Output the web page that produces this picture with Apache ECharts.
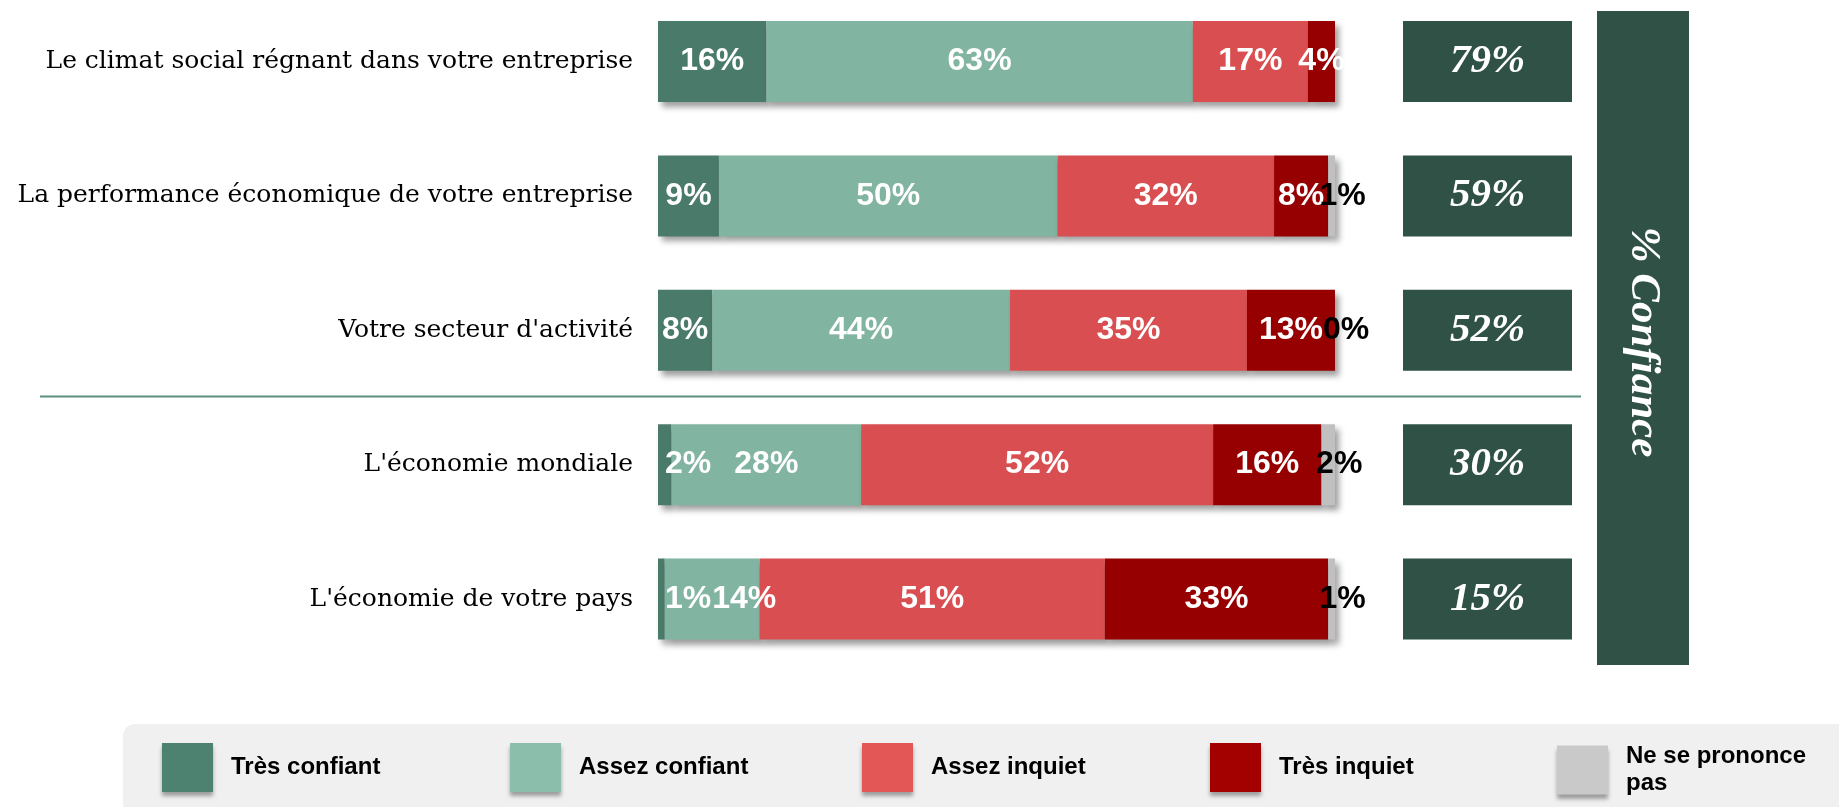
<!DOCTYPE html>
<html>
<head>
<meta charset="utf-8">
<style>
  html, body { margin: 0; padding: 0; background: #fff; }
  #chart { width: 1839px; height: 807px; }
</style>
<script src="https://cdn.jsdelivr.net/npm/echarts@6.0.0/dist/echarts.min.js"></script>
</head>
<body>
<div id="chart"></div>
<script>
// data
const categories = [
  'Le climat social régnant dans votre entreprise',
  'La performance économique de votre entreprise',
  "Votre secteur d'activité",
  "L'économie mondiale",
  "L'économie de votre pays"
];
const seriesNames = ['Très confiant', 'Assez confiant', 'Assez inquiet', 'Très inquiet', 'Ne se prononce pas'];
const tresConfiant = [16, 9, 8, 2, 1];
const assezConfiant = [63, 50, 44, 28, 14];
const assezInquiet = [17, 32, 35, 52, 51];
const tresInquiet = [4, 8, 13, 16, 33];
const nePrononcePas = [null, 1, 0, 2, 1];
const confiance = [79, 59, 52, 30, 15];

const colors = ['#4a7a69', '#82b4a2', '#d94f51', '#960000', '#c0c0c0'];
const legendColors = ['#4e8270', '#8cbfab', '#e35757', '#a30000', '#c9c9c9'];
const values = [tresConfiant, assezConfiant, assezInquiet, tresInquiet, nePrononcePas];

let chart = echarts.init(document.getElementById('chart'));

const barShadow = {
  shadowColor: 'rgba(0,0,0,0.38)',
  shadowBlur: 6,
  shadowOffsetX: 4,
  shadowOffsetY: 5
};

const series = values.map((arr, s) => ({
  name: seriesNames[s],
  type: 'bar',
  stack: 'total',
  barWidth: 81,
  clip: false,
  xAxisIndex: 0,
  yAxisIndex: 0,
  itemStyle: Object.assign({color: colors[s]}, barShadow),
  label: {
    show: true,
    position: 'inside',
    formatter: '{c}%',
    color: s === 4 ? '#000' : '#fff',
    fontFamily: 'Liberation Sans, Arial, sans-serif',
    fontWeight: 'bold',
    fontSize: 32,
    offset: s === 4 ? [11, 0] : [0, 0]
  },
  data: arr.map((v, i) => {
    // tiny first slices: label pushed to the left edge, next label moved aside
    if (s === 0 && v !== null && v <= 2) {
      return {value: v, label: {position: 'insideLeft', distance: 7}};
    }
    if (s === 1 && tresConfiant[i] <= 1) {
      return {value: v, label: {offset: [32, 0]}};
    }
    return v;
  })
}));

// confidence boxes
series.push({
  name: '% Confiance',
  type: 'scatter',
  xAxisIndex: 1,
  yAxisIndex: 1,
  symbol: 'rect',
  symbolSize: [169, 81],
  clip: false,
  itemStyle: {color: '#2f5146', opacity: 1},
  label: {
    show: true,
    position: 'inside',
    formatter: p => p.value[2] + '%',
    color: '#fff',
    fontFamily: 'Liberation Serif, Georgia, serif',
    fontStyle: 'italic',
    fontWeight: 'bold',
    fontSize: 41
  },
  data: confiance.map((v, i) => [0.5, i, v])
});

const legendX = [162, 510, 862, 1210, 1557];

const option = {
  animation: false,
  backgroundColor: '#fff',
  grid: [
    {left: 658, width: 677, top: 61.5, height: 537.5},
    {left: 1403, width: 169, top: 61.5, height: 537.5}
  ],
  xAxis: [
    {type: 'value', min: 0, max: 100, show: false, gridIndex: 0},
    {type: 'value', min: 0, max: 1, show: false, gridIndex: 1}
  ],
  yAxis: [
    {
      type: 'category',
      gridIndex: 0,
      inverse: true,
      boundaryGap: false,
      data: categories,
      axisLine: {show: false},
      axisTick: {show: false},
      splitLine: {show: false},
      axisLabel: {
        margin: 25,
        color: '#000',
        fontFamily: 'DejaVu Serif, Georgia, serif',
        fontSize: 25
      }
    },
    {
      type: 'category',
      gridIndex: 1,
      inverse: true,
      boundaryGap: false,
      data: categories,
      show: false
    }
  ],
  legend: seriesNames.map((n, i) => ({
    data: [n],
    left: legendX[i] - 5,
    top: 738,
    itemWidth: 51,
    itemHeight: 49,
    icon: 'rect',
    itemStyle: {color: legendColors[i], shadowColor: 'rgba(0,0,0,0.35)', shadowBlur: 4, shadowOffsetY: 4},
    selectedMode: false,
    formatter: name => name === 'Ne se prononce pas' ? 'Ne se prononce\npas' : name,
    textStyle: {
      color: '#000',
      fontFamily: 'Liberation Sans, Arial, sans-serif',
      fontWeight: 'bold',
      fontSize: 24,
      lineHeight: 27,
      padding: [0, 0, 0, 13]
    }
  })),
  graphic: [
    {
      type: 'rect',
      z: -10,
      shape: {x: 123, y: 724, width: 1760, height: 100, r: 12},
      style: {fill: '#f0f0f0'}
    },
    {
      type: 'line',
      shape: {x1: 40, y1: 396.5, x2: 1581, y2: 396.5},
      style: {stroke: '#5b8f7e', lineWidth: 2}
    },
    {
      type: 'rect',
      shape: {x: 1597, y: 11, width: 92, height: 654},
      style: {fill: '#2f5146'}
    },
    {
      type: 'text',
      x: 1643,
      y: 342,
      rotation: -Math.PI / 2,
      style: {
        text: '% Confiance',
        fill: '#fff',
        font: 'italic bold 43px "Liberation Serif", Georgia, serif',
        align: 'center',
        verticalAlign: 'middle'
      }
    }
  ],
  series: series
};

chart.setOption(option);
</script>
</body>
</html>
